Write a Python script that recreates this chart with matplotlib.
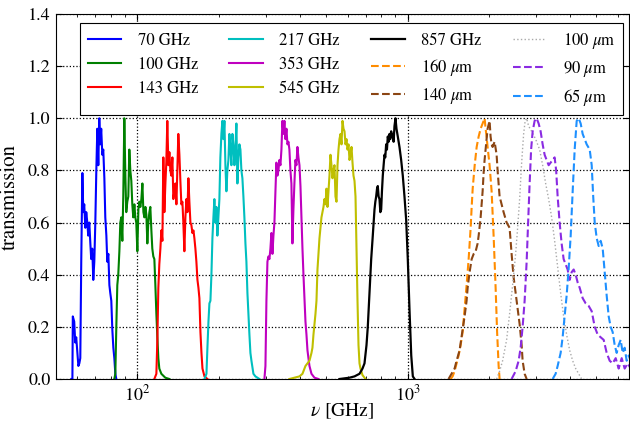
import matplotlib
matplotlib.use("Agg")
import matplotlib.pyplot as plt
import numpy as np

plt.rcParams['font.family'] = ['STIXGeneral', 'DejaVu Serif']
plt.rcParams['mathtext.fontset'] = 'stix'

# ---------------- data (frequency in GHz, transmission) ----------------
nu_70 = [57.0, 57.5, 57.7, 58.4, 58.9, 59.4, 60.0, 60.5, 61.0, 61.5, 62.0, 62.6, 63.1, 63.6,
         64.2, 64.7, 65.3, 65.8, 66.4, 67.0, 67.5, 68.1, 68.7, 69.3, 69.9, 70.5, 71.1, 71.7,
         72.3, 72.9, 73.5, 74.2, 74.8, 75.5, 76.1, 76.8, 77.4, 78.1, 78.8, 79.4, 80.1, 80.8,
         81.5, 82.2, 82.9, 83.6]
t_70 = [0.0, 0.0, 0.24, 0.22, 0.14, 0.16, 0.10, 0.05, 0.06, 0.08, 0.45, 0.79, 0.64, 0.67,
        0.58, 0.64, 0.60, 0.55, 0.60, 0.52, 0.46, 0.50, 0.38, 0.45, 0.60, 0.80, 0.96, 0.82,
        1.0, 0.90, 0.96, 0.86, 0.88, 0.77, 0.62, 0.55, 0.45, 0.48, 0.36, 0.33, 0.30, 0.19,
        0.12, 0.08, 0.02, 0.0]

nu_100 = [82.2, 82.9, 83.6, 84.3, 85.0, 85.8, 86.5, 87.2, 88.0, 88.7, 89.5, 90.3, 91.0, 91.8,
          92.6, 93.4, 94.2, 95.0, 95.8, 96.6, 97.5, 98.3, 99.1, 100.0, 100.9, 101.7, 102.6,
          103.5, 104.4, 105.3, 106.2, 107.1, 108.0, 108.9, 109.8, 110.8, 111.7, 112.7, 113.6,
          114.6, 115.6, 116.6, 117.6, 118.6, 119.6, 120.6, 122.7, 126.9, 131.4]
t_100 = [0.0, 0.02, 0.20, 0.36, 0.40, 0.49, 0.60, 0.62, 0.53, 0.70, 1.0, 0.78, 0.64, 0.68,
         0.70, 0.88, 0.80, 0.76, 0.67, 0.62, 0.67, 0.62, 0.60, 0.49, 0.65, 0.68, 0.66,
         0.69, 0.75, 0.64, 0.62, 0.66, 0.63, 0.52, 0.60, 0.64, 0.66, 0.57, 0.50,
         0.47, 0.46, 0.36, 0.25, 0.16, 0.08, 0.04, 0.02, 0.005, 0.0]

nu_143 = [115.6, 117.6, 118.6, 119.6, 120.6, 121.7, 122.7, 123.8, 124.8, 125.9, 127.0, 128.0,
          129.1, 130.3, 131.4, 132.5, 133.6, 134.8, 135.9, 137.1, 138.3, 139.5, 140.6, 141.8,
          143.1, 144.3, 145.5, 146.8, 148.0, 149.3, 150.6, 151.9, 153.2, 154.5, 155.8, 157.2,
          158.5, 159.9, 161.3, 162.6, 164.0, 165.4, 166.9, 168.3, 169.7, 171.2, 172.7, 174.2,
          177.2, 181.7]
t_143 = [0.0, 0.02, 0.15, 0.35, 0.44, 0.50, 0.57, 0.53, 0.85, 0.64, 0.75, 0.83,
         0.99, 0.82, 0.87, 0.80, 0.78, 0.85, 0.69, 0.72, 0.75, 0.67, 0.80, 0.94,
         0.86, 0.76, 0.67, 0.68, 0.60, 0.49, 0.62, 0.69, 0.64, 0.77, 0.68, 0.60,
         0.59, 0.56, 0.57, 0.54, 0.50, 0.45, 0.38, 0.35, 0.31, 0.18, 0.10, 0.04,
         0.01, 0.0]

nu_217 = [177.2, 180.2, 181.7, 183.3, 184.8, 186.4, 188.0, 189.6, 191.2, 192.8, 194.5, 196.1,
          197.8, 199.5, 201.2, 202.9, 204.7, 206.4, 208.2, 210.0, 211.8, 213.6, 215.4, 217.3,
          219.1, 221.0, 222.9, 224.8, 226.7, 228.7, 230.6, 232.6, 234.6, 236.6, 238.6, 240.7,
          242.7, 244.8, 246.9, 249.0, 251.2, 253.3, 255.5, 257.7, 259.9, 262.1, 264.4, 268.9,
          273.5, 283.0]
t_217 = [0.0, 0.02, 0.12, 0.22, 0.29, 0.30, 0.40, 0.54, 0.62, 0.69, 0.60, 0.66,
         0.55, 0.62, 0.69, 0.85, 0.94, 0.99, 0.92, 0.99, 0.82, 0.72, 0.80, 0.84,
         0.94, 0.88, 0.82, 0.94, 0.90, 0.82, 0.88, 0.98, 0.75, 0.85, 0.90, 0.88,
         0.80, 0.77, 0.70, 0.62, 0.52, 0.45, 0.33, 0.25, 0.17, 0.10, 0.07, 0.02,
         0.01, 0.0]

nu_353 = [295.3, 297.9, 300.4, 303.0, 305.6, 308.2, 310.8, 313.5, 316.2, 318.9, 321.6, 324.4,
          327.1, 329.9, 332.8, 335.6, 338.5, 341.4, 344.3, 347.3, 350.2, 353.2, 356.3, 359.3,
          362.4, 365.4, 368.6, 371.7, 374.9, 378.1, 381.3, 384.6, 387.9, 391.2, 394.6, 398.1,
          401.5, 404.9, 408.4, 411.9, 415.4, 419.0, 422.6, 426.2, 429.8, 433.5, 441.0, 452.4,
          468.1]
t_353 = [0.0, 0.05, 0.30, 0.45, 0.47, 0.46, 0.50, 0.56, 0.48, 0.55, 0.60, 0.72,
         0.83, 0.78, 0.80, 0.84, 0.82, 0.88, 0.99, 0.94, 0.99, 0.92, 0.96, 0.90,
         0.91, 0.88, 0.80, 0.75, 0.52, 0.65, 0.75, 0.84, 0.82, 0.89, 0.85, 0.82,
         0.74, 0.62, 0.50, 0.40, 0.31, 0.22, 0.17, 0.11, 0.08, 0.05, 0.02, 0.005,
         0.0]

nu_545 = [365.4, 381.3, 398.1, 408.4, 419.0, 426.2, 433.5, 441.0, 444.7, 448.5, 452.4, 456.3,
          460.2, 464.1, 468.1, 472.1, 476.1, 480.2, 484.3, 488.5, 492.6, 496.9, 501.1, 505.4,
          509.8, 514.1, 518.5, 523.0, 527.5, 532.0, 536.5, 541.1, 545.8, 550.5, 555.2, 559.8,
          564.8, 569.6, 574.5, 579.4, 584.4, 589.4, 594.4, 599.5, 604.6, 609.8, 615.0, 620.3,
          625.6, 630.9, 636.3, 641.8, 647.3, 652.8, 658.4, 664.0, 669.7, 681.2, 698.8]
t_545 = [0.0, 0.005, 0.01, 0.02, 0.05, 0.06, 0.07, 0.10, 0.12, 0.17, 0.21, 0.25,
         0.30, 0.42, 0.48, 0.54, 0.58, 0.62, 0.64, 0.66, 0.69, 0.67, 0.73, 0.66,
         0.72, 0.78, 0.86, 0.82, 0.77, 0.80, 0.82, 0.70, 0.68, 0.82, 0.88, 0.92,
         0.94, 0.90, 0.99, 0.96, 0.95, 0.90, 0.92, 0.88, 0.90, 0.84, 0.86, 0.89,
         0.83, 0.78, 0.76, 0.70, 0.50, 0.30, 0.13, 0.06, 0.04, 0.015, 0.0]

nu_857 = [559.8, 609.8, 636.3, 664.0, 681.2, 692.9, 704.8, 712.6, 723.0, 733.6, 743.6, 754.5,
          760.0, 765.4, 771.0, 776.0, 781.5, 787.3, 793.0, 798.7, 804.0, 809.8, 815.5, 821.5,
          827.0, 833.3, 839.0, 845.0, 851.0, 857.3, 863.0, 869.7, 875.5, 881.8, 888.0, 894.6,
          902.3, 910.0, 920.2, 933.5, 947.0, 960.2, 974.2, 988.3, 1002.0, 1017.2, 1032.0,
          1046.0, 1061.5]
t_857 = [0.0, 0.005, 0.01, 0.02, 0.04, 0.06, 0.13, 0.20, 0.33, 0.46, 0.55, 0.65,
         0.68, 0.70, 0.73, 0.74, 0.70, 0.69, 0.64, 0.65, 0.72, 0.78, 0.82, 0.86,
         0.85, 0.90, 0.88, 0.93, 0.91, 0.94, 0.92, 0.95, 0.93, 0.94, 0.91, 0.97,
         1.0, 0.96, 0.93, 0.89, 0.84, 0.78, 0.70, 0.61, 0.46, 0.26, 0.09,
         0.01, 0.0]

nu_160 = [1443, 1468, 1493, 1519, 1545, 1572, 1599, 1626, 1654, 1683, 1712, 1727, 1742, 1772,
          1802, 1833, 1864, 1896, 1928, 1945, 1961, 1978, 2012, 2047, 2082, 2118, 2145, 2173,
          2191]
t_160 = [0.0, 0.01, 0.03, 0.06, 0.09, 0.13, 0.18, 0.27, 0.36, 0.46, 0.58, 0.66, 0.73, 0.82,
         0.89, 0.93, 0.96, 0.98, 1.0, 0.96, 0.93, 0.89, 0.82, 0.72, 0.55, 0.35, 0.18, 0.05,
         0.0]

nu_140 = [1418, 1455, 1493, 1519, 1558, 1599, 1626, 1654, 1669, 1697, 1727, 1757, 1787, 1817,
          1833, 1864, 1896, 1912, 1928, 1961, 1978, 2012, 2029, 2047, 2064, 2100, 2136, 2154,
          2191, 2229, 2267, 2326, 2386, 2427, 2469, 2512, 2555, 2599, 2644, 2666, 2712, 2759]
t_140 = [0.0, 0.02, 0.04, 0.07, 0.11, 0.19, 0.24, 0.30, 0.35, 0.41, 0.46, 0.48, 0.49, 0.52,
         0.55, 0.62, 0.72, 0.79, 0.84, 0.92, 0.96, 0.99, 0.93, 0.90, 0.89, 0.91, 0.86, 0.80,
         0.70, 0.67, 0.64, 0.60, 0.58, 0.48, 0.39, 0.33, 0.27, 0.21, 0.13, 0.07, 0.02, 0.0]

nu_100um = [2136, 2191, 2248, 2326, 2386, 2448, 2512, 2555, 2599, 2644, 2689, 2724, 2759, 2806,
            2879, 2979, 3082, 3162, 3244, 3328, 3414, 3502, 3593, 3686, 3781, 3879, 3981, 4084,
            4190, 4298, 4410]
t_100um = [0.0, 0.03, 0.07, 0.15, 0.25, 0.36, 0.48, 0.58, 0.69, 0.83, 0.94, 0.99, 1.0, 0.97,
           0.95, 0.92, 0.88, 0.82, 0.75, 0.69, 0.62, 0.53, 0.43, 0.33, 0.24, 0.17, 0.11, 0.07,
           0.04, 0.02, 0.0]

nu_90 = [2427, 2512, 2577, 2621, 2666, 2712, 2759, 2794, 2830, 2866, 2904, 2953, 3004, 3056,
         3108, 3162, 3216, 3271, 3328, 3385, 3443, 3502, 3548, 3593, 3654, 3717, 3781, 3846,
         3912, 3981, 4049, 4119, 4190, 4262, 4335, 4447, 4563, 4682, 4803, 4928, 5055, 5185,
         5320, 5457, 5598, 5743, 5892, 6044, 6201, 6361, 6526, 6700]
t_90 = [0.0, 0.03, 0.07, 0.12, 0.20, 0.30, 0.45, 0.60, 0.75, 0.88, 0.95, 0.99, 1.0, 0.98,
        0.95, 0.90, 0.86, 0.84, 0.82, 0.83, 0.84, 0.85, 0.80, 0.70, 0.60, 0.52, 0.46, 0.44,
        0.42, 0.38, 0.41, 0.42, 0.40, 0.37, 0.35, 0.31, 0.29, 0.28, 0.26, 0.20, 0.17, 0.16,
        0.15, 0.10, 0.07, 0.06, 0.08, 0.04, 0.08, 0.04, 0.06, 0.04]

nu_65 = [3443, 3532, 3593, 3686, 3749, 3813, 3879, 3945, 4015, 4084, 4154, 4226, 4298, 4372,
         4447, 4524, 4602, 4722, 4803, 4865, 4928, 5012, 5098, 5185, 5275, 5365, 5457, 5551,
         5646, 5743, 5842, 5942, 6044, 6148, 6254, 6361, 6470, 6582, 6760]
t_65 = [0.0, 0.02, 0.05, 0.10, 0.16, 0.24, 0.32, 0.42, 0.55, 0.72, 0.88, 0.99, 1.0, 0.98,
        0.94, 0.92, 0.90, 0.88, 0.82, 0.70, 0.60, 0.54, 0.51, 0.53, 0.50, 0.41, 0.32, 0.24,
        0.20, 0.18, 0.13, 0.10, 0.13, 0.15, 0.10, 0.12, 0.07, 0.09, 0.06]

labels = ['70 GHz', '100 GHz', '143 GHz', '217 GHz', '353 GHz', '545 GHz', '857 GHz',
          r'160 $\mu$m', r'140 $\mu$m', r'100 $\mu$m', r'90 $\mu$m', r'65 $\mu$m']
x_ticks = [100, 1000]
x_ticklabels = [r'$10^2$', r'$10^3$']
y_ticks = [0.0, 0.2, 0.4, 0.6, 0.8, 1.0, 1.2, 1.4]

series = [(nu_70, t_70), (nu_100, t_100), (nu_143, t_143), (nu_217, t_217),
          (nu_353, t_353), (nu_545, t_545), (nu_857, t_857), (nu_160, t_160),
          (nu_140, t_140), (nu_100um, t_100um), (nu_90, t_90), (nu_65, t_65)]
styles = [dict(color='b', ls='-', lw=1.5), dict(color='g', ls='-', lw=1.5),
          dict(color='r', ls='-', lw=1.5), dict(color='c', ls='-', lw=1.5),
          dict(color='m', ls='-', lw=1.5), dict(color='y', ls='-', lw=1.5),
          dict(color='k', ls='-', lw=1.6),
          dict(color='darkorange', ls='--', lw=1.5), dict(color='saddlebrown', ls='--', lw=1.5),
          dict(color='darkgray', ls=':', lw=1.0), dict(color='blueviolet', ls='--', lw=1.5),
          dict(color='dodgerblue', ls='--', lw=1.5)]

fig = plt.figure(figsize=(6.3, 4.22), dpi=100)
ax = fig.add_axes([56/630, 1 - 379/422, 573/630, 365/422])

for (x, y), st, lab in zip(series, styles, labels):
    ax.plot(x, y, label=lab, **st)

ax.set_xscale('log')
ax.set_xlim(50, 6600)
ax.set_ylim(0, 1.4)
ax.set_xticks(x_ticks)
ax.set_xticklabels(x_ticklabels)
ax.set_yticks(y_ticks)
ax.set_yticklabels([f'{v:.1f}' for v in y_ticks])
ax.tick_params(which='both', direction='in', top=True, right=True, labelsize=13)
ax.tick_params(which='major', length=4, width=0.8, pad=4)
ax.tick_params(which='minor', length=2, width=0.6)
ax.grid(True, which='major', color='k', linestyle=':', linewidth=0.9)
ax.set_xlabel(r'$\nu$ [GHz]', fontsize=14, labelpad=-2)
ax.set_ylabel('transmission', fontsize=15, labelpad=6)

leg = ax.legend(ncol=4, loc='upper left', bbox_to_anchor=(0.042, 0.0, 0.948, 0.975),
                mode='expand', fontsize=12, frameon=True, fancybox=False,
                edgecolor='k', framealpha=1, labelspacing=0.48, handlelength=2.0,
                handletextpad=1.0, borderaxespad=0, borderpad=0.45)
leg.get_frame().set_linewidth(0.8)

fig.savefig('out.png', dpi=100)
